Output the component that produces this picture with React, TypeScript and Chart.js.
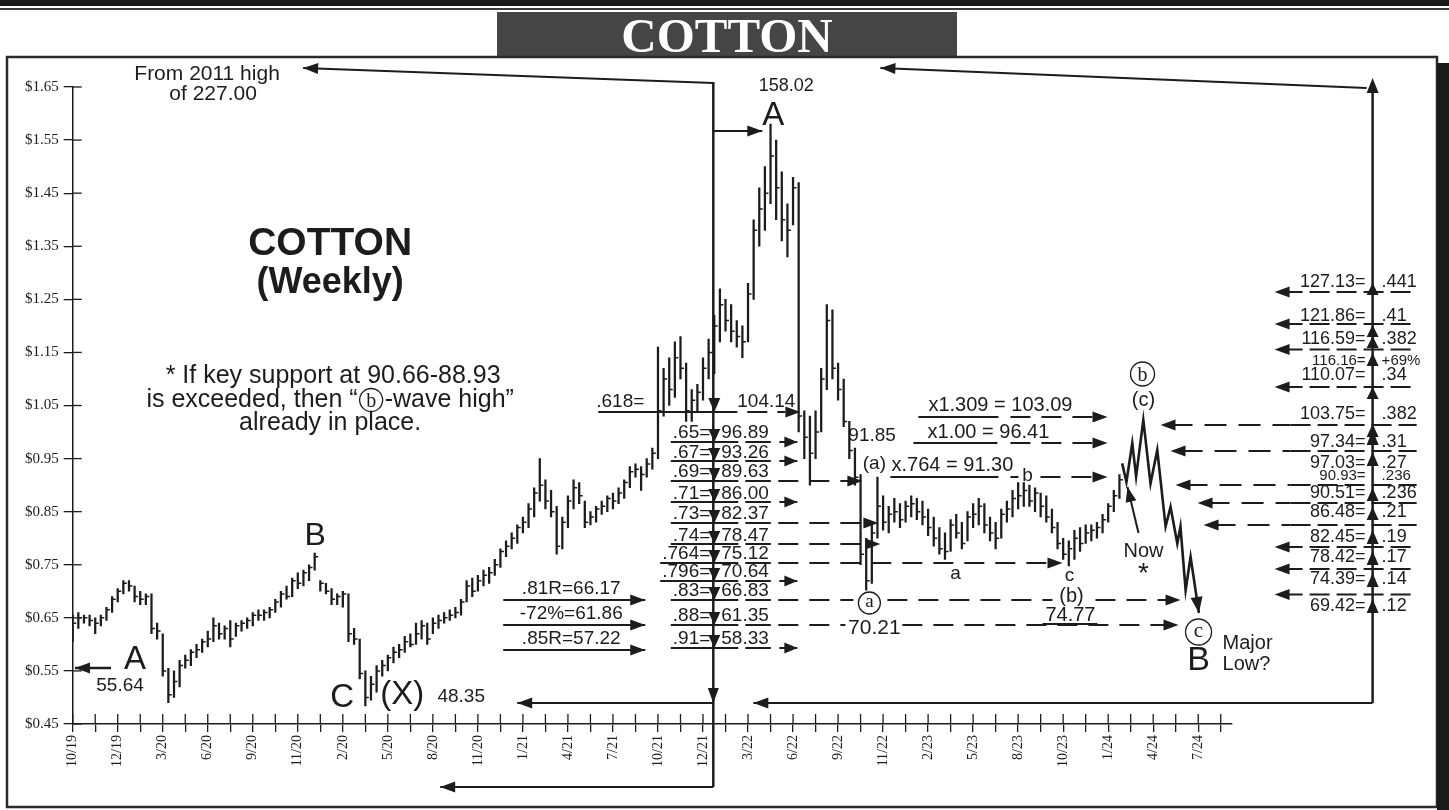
import React, { useEffect, useRef } from 'react';
import { Chart, registerables } from 'chart.js';

Chart.register(...registerables);

// ---------- axis definitions ----------
// x unit = one axis tick; every other tick carries a label
const X_LABELS = ['10/19', '12/19', '3/20', '6/20', '9/20', '11/20', '2/20', '5/20', '8/20', '11/20', '1/21', '4/21', '7/21', '10/21', '12/21', '3/22', '6/22', '9/22', '11/22', '2/23', '5/23', '8/23', '10/23', '1/24', '4/24', '7/24'];
const X_TICK_COUNT = 52;
const X_MAX = 51.5;
const BARS_PER_TICK = 4;
const Y_TICKS = [0.45, 0.55, 0.65, 0.75, 0.85, 0.95, 1.05, 1.15, 1.25, 1.35, 1.45, 1.55, 1.65];

// ---------- weekly price bars (cents) ----------
const HIGHS = [
  65.5, 66, 65.5, 65.5, 65, 65.5, 67, 69, 70.5, 72,
  72, 71, 70, 69.5, 69.5, 64, 62, 55.5, 55, 57,
  58, 59, 60, 61, 62.5, 65, 64, 63.5, 64.5, 64,
  64.5, 65, 66, 66.5, 66.5, 67, 68.5, 70, 71, 72.5,
  73.5, 74, 75, 77.2, 72, 71.5, 70.5, 69.5, 70, 69.5,
  63, 61, 55, 54, 56, 57, 58, 59.5, 60, 61.5,
  62, 64, 64.5, 64, 65, 65.5, 66, 66.5, 67, 68.5,
  72, 72.5, 73, 74, 74.5, 76, 78, 79.5, 81, 82.5,
  84, 86.5, 89.5, 95, 91, 89, 86, 84, 88, 91,
  90.5, 87, 85, 86, 87, 88, 88.5, 89.5, 91, 93.5,
  94, 93.5, 95, 97, 116, 112, 114, 117, 118, 113,
  108, 109, 114, 117.5, 122, 127, 125, 124, 121, 120,
  128, 140, 146, 150, 158, 155, 149, 143, 148, 147,
  104, 103, 104, 112, 124, 123, 113, 110, 102, 97,
  92, 80, 83, 91.5, 88, 86, 87.5, 86.5, 87, 88,
  87.5, 87, 85.5, 84, 82, 81, 83.5, 84.5, 83, 85,
  86.5, 87.5, 86.5, 84, 83, 85.5, 87, 89, 90.5, 90.5,
  90, 89.5, 88.5, 88, 85.5, 83, 80, 79.5, 81.5, 82,
  82.5, 82.5, 83, 84.5, 86.5, 89, 92,
];
const LOWS = [
  60.5, 63, 64, 63.5, 62, 63.5, 64.5, 66, 68, 69.5,
  70, 68, 67.5, 67.5, 62, 61, 54, 49, 50, 52,
  55.5, 56, 57.5, 58.5, 59.5, 60.5, 61, 61, 59.5, 61.5,
  62.5, 63, 63.5, 64.5, 64.5, 65, 66, 67, 68.5, 69,
  70.5, 71, 72, 74, 70, 69.5, 67.5, 67.5, 67, 60.5,
  60, 53.5, 48.4, 49.5, 51, 54, 55, 56.5, 57.5, 58.5,
  59.5, 60, 61, 60, 62, 63, 64, 64.5, 65, 65.5,
  68, 69, 70, 71, 71.5, 73, 74.5, 76.5, 78, 79,
  81, 82, 84, 87, 85.5, 84, 77, 78, 82, 85.5,
  86.5, 82, 82.5, 83, 84.5, 85, 85.5, 86.5, 87.5, 89.5,
  91.5, 89, 91.5, 93, 95, 103, 105, 106.5, 110, 102,
  102, 104, 106, 110, 111, 117, 119, 117, 116, 114,
  117, 125, 135, 138, 143, 140, 136, 133, 139, 100,
  95, 90, 95, 100, 108, 110, 106, 101, 95, 90,
  75, 70.2, 71.5, 80, 81.5, 81, 83, 82, 83, 84,
  83.5, 82.5, 80.5, 78.5, 77, 76, 77.5, 80, 78, 79.5,
  82, 82.5, 81, 79.5, 78, 80, 83, 84, 85.5, 86,
  86, 85, 84, 83, 81, 78, 76, 74.8, 76, 77.5,
  79, 79.5, 80, 81, 83, 85, 87.5,
];
const CLOSES = [
  64, 65, 65, 64.5, 64, 65, 66.5, 68.5, 70, 71.5,
  71, 69, 68.5, 69, 63, 62.5, 55, 50.5, 53, 56,
  57, 58.5, 59, 60.5, 61, 63.5, 62, 63, 61, 63.5,
  64, 64.5, 65.5, 65.5, 66, 66.5, 68, 69.5, 69, 72,
  71.5, 73.5, 74.5, 76.5, 71.5, 70, 68.5, 69, 69.5, 62,
  61, 54.5, 50, 52.5, 55, 56, 57.5, 58.5, 59, 60.5,
  60, 62, 63.5, 61, 64, 64.5, 65, 65.5, 66, 68,
  71, 70, 72, 73, 73.5, 75, 77.5, 78.5, 80, 82,
  83, 85.5, 88.5, 90, 87, 85, 78.5, 83, 87, 89.5,
  88, 83, 84, 85.5, 86, 87.5, 87, 88.5, 90.5, 92.5,
  93, 92, 94, 96, 104, 110, 108, 114, 112, 104,
  106, 107.5, 112, 115, 120, 124, 121, 119, 118, 117,
  126, 138, 142, 145, 152, 146, 140, 138, 146, 103,
  99, 96, 100, 110, 121, 112, 108, 102, 96.5, 91.5,
  77, 72, 81, 86, 83, 84.5, 85, 83.5, 86, 86.5,
  85, 84, 82, 80, 78, 77.5, 82.5, 81, 79, 84,
  84.5, 86, 82.5, 81, 80, 84.5, 85.5, 87.5, 88, 89,
  87, 88.5, 86, 84, 82, 79, 77, 78, 80, 79,
  81, 81.5, 82, 83.5, 86, 88, 91,
];

// ---------- projected path (tick units, $) ----------
const PROJ_X = [46.62, 46.81, 47.07, 47.24, 47.56, 47.88, 48.18, 48.55, 48.77, 49.07, 49.21, 49.44, 49.66, 50.03];
const PROJ_Y = [0.941, 0.906, 0.979, 0.916, 1.023, 0.903, 0.966, 0.822, 0.859, 0.79, 0.822, 0.702, 0.765, 0.659];

const INK = '#1c1c1c';
const SANS = '"Liberation Sans", Arial, Helvetica, sans-serif';
const SERIF = '"Liberation Serif", "Times New Roman", serif';

// middle Fibonacci table rows: label, value, text y, line y, kind, end x
const MID_ROWS: [string, string, number, number, string, number][] = [
  ['.65=', '96.89', 433, 442, 'short', 0],
  ['.67=', '93.26', 453, 461, 'short', 0],
  ['.69=', '89.63', 472, 481, 'dash', 862],
  ['.71=', '86.00', 494, 502, 'short', 0],
  ['.73=', '82.37', 514, 523, 'dash', 878],
  ['.74=', '78.47', 536, 544, 'dash', 880],
  ['.764=', '75.12', 554, 563, 'dash', 1062],
  ['.796=', '70.64', 572, 581, 'short', 0],
  ['.83=', '66.83', 591, 600, 'gapA', 1180],
  ['.88=', '61.35', 616, 625, 'gapB', 1178],
  ['.91=', '58.33', 639, 648, 'short', 0],
];

// right table rows: label, value, text y, line y (0 = none), kind, tip x, small
const RIGHT_ROWS: [string, string, number, number, string, number, boolean][] = [
  ['127.13=', '.441', 282, 292, 'arrow', 1274, false],
  ['121.86=', '.41', 316, 324, 'arrow', 1274, false],
  ['116.59=', '.382', 339, 349.5, 'arrow', 1274, false],
  ['116.16=', '+69%', 361, 0, 'none', 0, true],
  ['110.07=', '.34', 375, 387, 'arrow', 1274, false],
  ['103.75=', '.382', 414, 425, 'dash', 1160, false],
  ['97.34=', '.31', 442, 451, 'dash', 1170, false],
  ['97.03=', '.27', 463, 0, 'none', 0, false],
  ['90.93=', '.236', 476, 485, 'dash', 1175, true],
  ['90.51=', '.236', 493, 503, 'dash', 1197, false],
  ['86.48=', '.21', 512, 525, 'dash', 1203, false],
  ['82.45=', '.19', 537, 547, 'arrow', 1274, false],
  ['78.42=', '.17', 557, 569, 'arrow', 1274, false],
  ['74.39=', '.14', 579, 594.5, 'arrow', 1274, false],
  ['69.42=', '.12', 606, 0, 'none', 0, false],
];
const RIGHT_TRI: [number, number][] = [
  [283, 295], [325, 337], [336, 348], [353, 366], [387, 399], [424, 437], [430, 445],
  [452, 466], [488, 501], [507, 520], [530, 544], [551, 565], [573, 587], [599, 613],
];

const annotationPlugin = {
  id: 'cottonAnnotations',
  beforeDraw(chart: any) {
    const c = chart.ctx;
    c.save();
    c.fillStyle = '#fff';
    c.fillRect(0, 0, chart.width, chart.height);
    c.restore();
  },
  afterDraw(chart: any) {
    const ctx: CanvasRenderingContext2D = chart.ctx;
    const xs = chart.scales.x;
    const ys = chart.scales.y;
    const area = chart.chartArea;
    const X = (px: number) => xs.getPixelForValue((px - 72.7) / 22.5);
    const Y = (py: number) => ys.getPixelForValue(0.45 + (724 - py) / 530.8);

    ctx.save();
    // ---- page frame & title ----
    ctx.fillStyle = '#1a1a1a';
    ctx.fillRect(0, 0, 1449, 6);
    ctx.fillStyle = '#3a3a3a';
    ctx.fillRect(0, 8, 1449, 2);
    ctx.fillStyle = '#454545';
    ctx.fillRect(497, 12, 460, 45);
    ctx.fillStyle = '#fff';
    ctx.font = `bold 49px ${SERIF}`;
    ctx.textAlign = 'center';
    ctx.textBaseline = 'alphabetic';
    ctx.fillText('COTTON', 727, 52);
    ctx.strokeStyle = '#2a2a2a';
    ctx.lineWidth = 2.5;
    ctx.strokeRect(7, 57, 1430, 750);
    ctx.fillStyle = '#1a1a1a';
    ctx.fillRect(1437, 63, 12, 747);

    // ---- inner halves of axis ticks ----
    ctx.strokeStyle = INK;
    ctx.lineWidth = 1.3;
    xs.ticks.forEach((t: any) => {
      const p = xs.getPixelForValue(t.value);
      ctx.beginPath();
      ctx.moveTo(p, area.bottom);
      ctx.lineTo(p, area.bottom - 10);
      ctx.stroke();
    });
    ys.ticks.forEach((t: any) => {
      const p = ys.getPixelForValue(t.value);
      ctx.beginPath();
      ctx.moveTo(area.left, p);
      ctx.lineTo(area.left + 9, p);
      ctx.stroke();
    });
    ctx.restore();

    // ---- helpers ----
    const line = (pts: number[][], w = 2, dash: number[] = []) => {
      ctx.save();
      ctx.strokeStyle = INK;
      ctx.lineWidth = w;
      ctx.setLineDash(dash);
      ctx.beginPath();
      pts.forEach(([a, b], i) => (i ? ctx.lineTo(X(a), Y(b)) : ctx.moveTo(X(a), Y(b))));
      ctx.stroke();
      ctx.restore();
    };
    const head = (x1: number, y1: number, x2: number, y2: number, len = 15, hw = 5.5) => {
      const ax = X(x1), ay = Y(y1), bx = X(x2), by = Y(y2);
      const ang = Math.atan2(by - ay, bx - ax);
      const c = Math.cos(ang), s = Math.sin(ang);
      ctx.save();
      ctx.fillStyle = INK;
      ctx.beginPath();
      ctx.moveTo(bx, by);
      ctx.lineTo(bx - len * c + hw * s, by - len * s - hw * c);
      ctx.lineTo(bx - len * c - hw * s, by - len * s + hw * c);
      ctx.closePath();
      ctx.fill();
      ctx.restore();
    };
    const arrow = (x1: number, y1: number, x2: number, y2: number, w = 2, dash: number[] = [], len = 15, hw = 5.5) => {
      line([[x1, y1], [x2, y2]], w, dash);
      head(x1, y1, x2, y2, len, hw);
    };
    const text = (s: string, x: number, y: number, size: number, align: CanvasTextAlign = 'center', family = SANS, weight = '') => {
      ctx.save();
      ctx.fillStyle = INK;
      ctx.font = `${weight} ${size}px ${family}`;
      ctx.textAlign = align;
      ctx.textBaseline = 'middle';
      ctx.fillText(s, X(x), Y(y));
      ctx.restore();
    };
    const measure = (s: string, size: number, family = SANS, weight = '') => {
      ctx.save();
      ctx.font = `${weight} ${size}px ${family}`;
      const w = ctx.measureText(s).width;
      ctx.restore();
      return w;
    };
    const tri = (x: number, yTip: number, yBase: number, hw = 6) => {
      ctx.save();
      ctx.fillStyle = INK;
      ctx.beginPath();
      ctx.moveTo(X(x), Y(yTip));
      ctx.lineTo(X(x) - hw, Y(yBase));
      ctx.lineTo(X(x) + hw, Y(yBase));
      ctx.closePath();
      ctx.fill();
      ctx.restore();
    };
    const circled = (letter: string, cx: number, cy: number, r: number, size: number, raw = false) => {
      const px = raw ? cx : X(cx);
      const py = raw ? cy : Y(cy);
      ctx.save();
      ctx.strokeStyle = INK;
      ctx.lineWidth = 1.3;
      ctx.beginPath();
      ctx.arc(px, py, r, 0, Math.PI * 2);
      ctx.stroke();
      ctx.fillStyle = INK;
      ctx.font = `${size}px ${SERIF}`;
      ctx.textAlign = 'center';
      ctx.textBaseline = 'alphabetic';
      const off = letter === 'b' ? 0.33 : 0.23;
      ctx.fillText(letter, px, py + off * size);
      ctx.restore();
    };
    const dashSeg = (x1: number, x2: number, y: number) => line([[x1, y], [x2, y]], 2, [20, 11]);

    // ---- long frame arrows ----
    line([[713, 82], [713, 787]], 2.5);
    arrow(713, 83, 303, 68, 2);
    arrow(713, 787, 440, 787, 2);
    head(713, 680, 713, 703);
    arrow(713, 703, 517, 703, 2);
    arrow(1372, 703, 753, 703, 2);
    line([[1372, 703], [1372, 90]], 2.5);
    head(1372, 100, 1372, 78, 15, 6);
    arrow(1366, 88, 880, 68, 2);
    arrow(713, 131, 762, 131, 2);

    // ---- top labels ----
    text('From 2011 high', 207, 74, 21);
    text('of 227.00', 213, 94, 21);
    text('158.02', 786, 86, 18);
    text('A', 773, 116, 33);

    // ---- left block ----
    text('COTTON', 330, 244, 39, 'center', SANS, 'bold');
    text('(Weekly)', 330, 283, 36, 'center', SANS, 'bold');
    text('* If key support at 90.66-88.93', 333, 376, 25);
    {
      const size = 25;
      const p1 = 'is exceeded, then “';
      const p2 = '-wave high”';
      const w1 = measure(p1, size);
      const w2 = measure(p2, size);
      const cw = 27;
      const total = w1 + cw + w2;
      const sx = X(330) - total / 2;
      const yy = Y(400);
      ctx.save();
      ctx.fillStyle = INK;
      ctx.font = `${size}px ${SANS}`;
      ctx.textAlign = 'left';
      ctx.textBaseline = 'middle';
      ctx.fillText(p1, sx, yy);
      ctx.fillText(p2, sx + w1 + cw, yy);
      ctx.restore();
      circled('b', sx + w1 + cw / 2, yy, 11.5, 20, true);
    }
    text('already in place.', 330, 423, 25);

    text('B', 315, 536, 32);
    text('A', 135, 660, 33);
    arrow(111, 668, 75, 668, 2.5);
    text('55.64', 120, 686, 19);
    text('C', 342, 698, 33);
    text('(X)', 402, 695, 33);
    text('48.35', 461, 697, 19);

    // ---- .618 row & middle table ----
    text('.618=', 620, 402, 19);
    text('104.14', 766, 402, 19);
    line([[598, 412], [737, 412]], 2);
    line([[747, 412], [785, 412]], 2, [20, 10]);
    head(780, 412, 800, 412);
    tri(714, 412, 398, 6);

    MID_ROWS.forEach(([lab, num, ty, ly, kind, end]) => {
      text(lab, 710, ty, 19, 'right');
      text(num, 721, ty, 19, 'left');
      const wl = measure(lab, 19);
      const wn = measure(num, 19);
      line([[710 - wl - 2, ly], [738, ly]], 2);
      line([[745, ly], [721 + wn + 2, ly]], 2);
      tri(714, ly, ly - 13, 6);
      if (kind === 'short') {
        arrow(779, ly, 797, ly, 2, [], 13, 5.5);
      } else if (kind === 'dash') {
        dashSeg(778, end - 12, ly);
        head(end - 20, ly, end, ly);
      } else if (kind === 'gapA') {
        dashSeg(778, 853, ly);
        circled('a', 869, 603, 11, 19);
        dashSeg(887, 1052, ly);
        text('(b)', 1071, 596, 20);
        dashSeg(1095, end - 12, ly);
        head(end - 20, ly, end, ly);
      } else if (kind === 'gapB') {
        dashSeg(778, 845, ly);
        text('70.21', 874, 628, 21);
        dashSeg(902, end - 12, ly);
        head(end - 20, ly, end, ly);
      }
    });

    // ---- left retracement arrows ----
    text('.81R=66.17', 571, 589, 19);
    arrow(503, 600, 645, 600, 2);
    text('-72%=61.86', 571, 614, 19);
    arrow(503, 625, 645, 625, 2);
    text('.85R=57.22', 571, 639, 19);
    arrow(503, 650, 645, 650, 2);

    // ---- wave labels ----
    text('91.85', 848, 436, 19, 'left');
    text('(a)', 874, 464, 19);
    text('a', 955, 574, 19);
    text('c', 1069, 576, 19);
    text('74.77', 1070, 615, 20);
    line([[1042, 624], [1097, 624]], 2);

    // ---- projection ratios ----
    text('x1.309 = 103.09', 1000, 406, 20);
    line([[918, 417], [998, 417]], 2);
    dashSeg(1010, 1095, 417);
    head(1090, 417, 1107, 417);
    text('x1.00 = 96.41', 988, 433, 20);
    line([[913, 443], [997, 443]], 2);
    dashSeg(1010, 1095, 443);
    head(1090, 443, 1107, 443);
    text('x.764 = 91.30', 952, 466, 20);
    line([[890, 477], [998, 477]], 2);
    line([[1010, 477], [1018, 477]], 2);
    text('b', 1027, 476, 19);
    dashSeg(1040, 1095, 477);
    head(1090, 477, 1107, 477);

    circled('b', 1142, 374, 12, 20);
    text('(c)', 1143, 401, 20);
    text('Now', 1143, 551, 20);
    text('*', 1143, 574, 28);
    arrow(1138, 533, 1127, 487, 2);
    circled('c', 1198, 632, 13, 21);
    text('B', 1198, 661, 34);
    text('Major', 1222, 643, 20, 'left');
    text('Low?', 1222, 664, 20, 'left');

    // projection arrow head at the end of the projected path
    const meta = chart.getDatasetMeta(2);
    const pts = meta.data;
    if (pts && pts.length > 1) {
      const a = pts[pts.length - 2];
      const b = pts[pts.length - 1];
      const ang = Math.atan2(b.y - a.y, b.x - a.x);
      const c = Math.cos(ang), s = Math.sin(ang);
      ctx.save();
      ctx.fillStyle = INK;
      ctx.beginPath();
      ctx.moveTo(b.x, b.y);
      ctx.lineTo(b.x - 16 * c + 6 * s, b.y - 16 * s - 6 * c);
      ctx.lineTo(b.x - 16 * c - 6 * s, b.y - 16 * s + 6 * c);
      ctx.closePath();
      ctx.fill();
      ctx.restore();
    }

    // ---- right table ----
    RIGHT_ROWS.forEach(([lab, val, ty, ly, kind, tip, small]) => {
      const size = small ? 15 : 18;
      text(lab, 1365, ty, size, 'right');
      text(val, 1381, ty, size, 'left');
      if (ly) {
        if (kind === 'arrow') {
          line([[tip + 8, ly], [1416, ly]], 2, [20, 7]);
          head(tip + 20, ly, tip, ly);
        } else if (kind === 'dash') {
          line([[tip + 10, ly], [1290, ly]], 2, [22, 12]);
          line([[1290, ly], [1416, ly]], 2, [20, 7]);
          head(tip + 20, ly, tip, ly);
        }
      }
    });
    RIGHT_TRI.forEach(([t, b]) => tri(1372, t, b, 6));
  },
};

export default function App() {
  const ref = useRef<HTMLCanvasElement>(null);

  useEffect(() => {
    const canvas = ref.current;
    if (!canvas) return;
    const barData = HIGHS.map((h, i) => ({ x: i / BARS_PER_TICK, y: [LOWS[i] / 100, h / 100] }));
    const closeData = CLOSES.map((c, i) => ({ x: i / BARS_PER_TICK, y: c / 100 }));
    const projData = PROJ_X.map((x, i) => ({ x, y: PROJ_Y[i] }));
    const xTickValues = Array.from({ length: X_TICK_COUNT }, (_, k) => k);

    const chart = new Chart(canvas, {
      type: 'bar',
      data: {
        datasets: [
          {
            type: 'bar',
            data: barData as any,
            backgroundColor: INK,
            borderWidth: 0,
            barThickness: 1.6,
            grouped: false,
          } as any,
          {
            type: 'line',
            data: closeData as any,
            showLine: false,
            pointStyle: 'dash',
            pointRadius: 3.5,
            pointBorderWidth: 1.5,
            borderColor: INK,
            backgroundColor: INK,
          } as any,
          {
            type: 'line',
            data: projData as any,
            borderColor: INK,
            borderWidth: 2.6,
            pointRadius: 0,
            tension: 0,
            fill: false,
          } as any,
        ],
      },
      options: {
        responsive: false,
        maintainAspectRatio: false,
        animation: false,
        events: [],
        layout: { padding: { left: 0, top: 87, right: 217, bottom: 6 } },
        plugins: { legend: { display: false }, tooltip: { enabled: false }, title: { display: false } },
        scales: {
          x: {
            type: 'linear',
            min: 0,
            max: X_MAX,
            offset: false,
            afterBuildTicks: (axis: any) => {
              axis.ticks = xTickValues.map((v) => ({ value: v }));
            },
            afterFit: (axis: any) => {
              axis.height = 80;
            },
            ticks: {
              autoSkip: false,
              maxRotation: 90,
              minRotation: 90,
              padding: 3,
              color: INK,
              font: { family: 'Liberation Serif', size: 14 },
              callback: (v: any) => (Number(v) % 2 === 0 ? X_LABELS[Number(v) / 2] ?? '' : ''),
            },
            grid: { drawOnChartArea: false, drawTicks: true, tickLength: 8, color: INK, lineWidth: 1.3, offset: false },
            border: { display: true, color: INK, width: 1.5 },
          },
          y: {
            type: 'linear',
            min: 0.45,
            max: 1.65,
            beginAtZero: false,
            afterBuildTicks: (axis: any) => {
              axis.ticks = Y_TICKS.map((v) => ({ value: v }));
            },
            afterFit: (axis: any) => {
              axis.width = 72.7;
            },
            ticks: {
              padding: 5,
              color: INK,
              font: { family: 'Liberation Serif', size: 15 },
              callback: (v: any) => '$' + Number(v).toFixed(2),
            },
            grid: { drawOnChartArea: false, drawTicks: true, tickLength: 9, color: INK, lineWidth: 1.3 },
            border: { display: true, color: INK, width: 1.5 },
          },
        },
      } as any,
      plugins: [annotationPlugin as any],
    });
    return () => chart.destroy();
  }, []);

  return (
    <div style={{ position: 'absolute', left: 0, top: 0, width: 1449, height: 810, background: '#fff' }}>
      <canvas ref={ref} width={1449} height={810} style={{ display: 'block' }} />
    </div>
  );
}
